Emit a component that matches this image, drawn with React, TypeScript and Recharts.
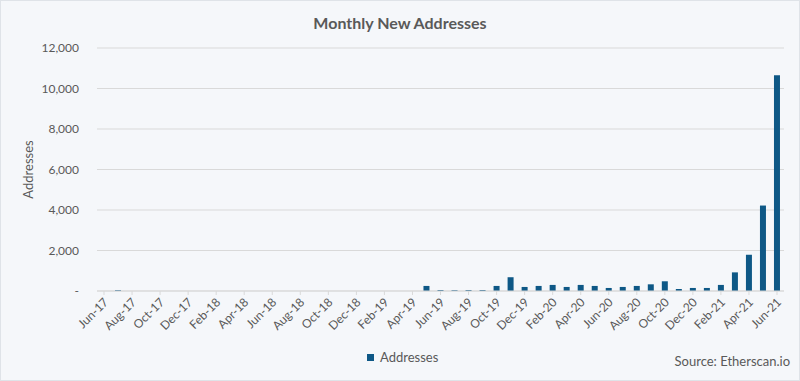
import { BarChart, Bar, XAxis, YAxis, CartesianGrid } from "recharts";

const months = [
  "Jun-17", "Jul-17", "Aug-17", "Sep-17", "Oct-17", "Nov-17", "Dec-17",
  "Jan-18", "Feb-18", "Mar-18", "Apr-18", "May-18", "Jun-18", "Jul-18",
  "Aug-18", "Sep-18", "Oct-18", "Nov-18", "Dec-18", "Jan-19", "Feb-19",
  "Mar-19", "Apr-19", "May-19", "Jun-19", "Jul-19", "Aug-19", "Sep-19",
  "Oct-19", "Nov-19", "Dec-19", "Jan-20", "Feb-20", "Mar-20", "Apr-20",
  "May-20", "Jun-20", "Jul-20", "Aug-20", "Sep-20", "Oct-20", "Nov-20",
  "Dec-20", "Jan-21", "Feb-21", "Mar-21", "Apr-21", "May-21", "Jun-21",
];

const addresses = [
  0, 40, 0, 0, 0, 0, 0,
  0, 0, 0, 0, 0, 0, 0,
  0, 0, 0, 0, 0, 0, 0,
  0, 0, 250, 50, 40, 50, 50,
  250, 680, 200, 250, 300, 200, 300,
  250, 150, 200, 250, 330, 480, 100,
  150, 150, 300, 920, 1790, 4220, 10660,
];

const yTicks = [0, 2000, 4000, 6000, 8000, 10000, 12000];

const data = months.map((m, i) => ({ month: m, addresses: addresses[i] }));

const FONT = "Lato, 'Open Sans', sans-serif";
const GRAY = "#595959";
const BAR = "#0e5886";

function MonthTick(props: any) {
  const { x, y, payload } = props;
  return (
    <g transform={`translate(${x + 5},${y + 6})`}>
      <text
        textAnchor="end"
        transform="rotate(-45)"
        fontSize={12}
        fill={GRAY}
        fontFamily={FONT}
      >
        {payload.value}
      </text>
    </g>
  );
}

export default function App() {
  return (
    <div
      style={{
        position: "absolute",
        left: 0,
        top: 0,
        width: 800,
        height: 381,
        boxSizing: "border-box",
        background: "#f5f7fa",
        border: "1px solid #dfe3e8",
        fontFamily: FONT,
      }}
    >
      <div
        style={{
          position: "absolute",
          top: 12,
          width: "100%",
          textAlign: "center",
          fontSize: 16,
          fontWeight: 700,
          color: GRAY,
        }}
      >
        Monthly New Addresses
      </div>
      <BarChart
        width={800}
        height={381}
        data={data}
        margin={{ top: 47, right: 17, left: 0, bottom: 41 }}
        barSize={6}
      >
        <CartesianGrid vertical={false} stroke="#d9d9d9" />
        <XAxis
          dataKey="month"
          interval={1}
          height={50}
          tick={<MonthTick />}
          tickLine={{ stroke: "#d9d9d9" }}
          tickSize={4}
          axisLine={{ stroke: "#d9d9d9" }}
        />
        <YAxis
          width={96}
          domain={[0, 12000]}
          ticks={yTicks}
          tickLine={false}
          axisLine={false}
          tickMargin={12}
          tick={{ fontSize: 12, fill: GRAY, fontFamily: FONT }}
          tickFormatter={(v: number) => (v === 0 ? "-" : v.toLocaleString("en-US"))}
          label={{
            value: "Addresses",
            angle: -90,
            position: "insideLeft",
            offset: 27,
            style: { fontSize: 13, fill: GRAY, fontFamily: FONT, textAnchor: "middle" },
          }}
        />
        <Bar dataKey="addresses" fill={BAR} isAnimationActive={false} />
      </BarChart>
      <div
        style={{
          position: "absolute",
          left: 366,
          top: 348,
          display: "flex",
          alignItems: "center",
          fontSize: 13,
          color: GRAY,
        }}
      >
        <span style={{ width: 7, height: 7, background: BAR, marginRight: 6 }} />
        Addresses
      </div>
      <div
        style={{
          position: "absolute",
          right: 9,
          top: 352,
          fontSize: 13,
          color: GRAY,
        }}
      >
        Source: Etherscan.io
      </div>
    </div>
  );
}
